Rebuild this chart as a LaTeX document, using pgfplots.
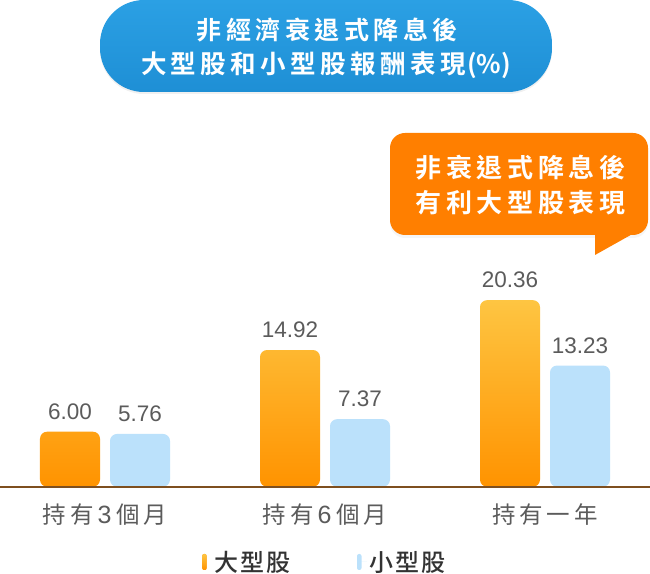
\documentclass[border=0pt]{standalone}
\usepackage{pgfplots}
\pgfplotsset{compat=1.18}
\usepackage{fontspec}
\usetikzlibrary{shadows}
\setmainfont{Liberation Sans}
\newfontfamily\cjk[LetterSpace=16]{Noto Sans CJK TC}
\newfontfamily\cjkb[LetterSpace=18]{Noto Sans CJK TC Bold}
\newfontfamily\cjkbt{Noto Sans CJK TC Bold}
\newfontfamily\cjkm[LetterSpace=10]{Noto Sans CJK TC Medium}

\definecolor{orTop}{HTML}{FEC542}
\definecolor{orBot}{HTML}{FF9300}
\definecolor{lblue}{HTML}{BBE1FB}
\definecolor{baseln}{HTML}{7E4F1F}
\definecolor{lbl}{HTML}{5B5B5B}
\definecolor{callout}{HTML}{FF7F00}
\definecolor{legtxt}{HTML}{333333}
\definecolor{ttop}{HTML}{2BA0E4}
\definecolor{tbot}{HTML}{1E8FD5}

\newcommand{\dg}[1]{\hspace{4pt}{\rmfamily\fontsize{25}{25}\selectfont#1}\hspace{5pt}}

\begin{document}
\begin{tikzpicture}
\begin{axis}[
  scale only axis, width=650pt, height=486.7pt,
  xmin=-0.47727, xmax=2.47727, ymin=0, ymax=53.13,
  ybar=10pt, bar width=60pt,
  axis x line*=bottom, axis y line=none,
  axis line style={draw=baseln, line width=2pt, -},
  axis on top, clip=false,
  xtick={0,1,2},
  xticklabels={持有\dg{3}個月,持有\dg{6}個月,持有一年},
  major tick length=0pt, ytick=\empty,
  x tick label style={font=\cjk\fontsize{23.5}{23.5}\selectfont, text=lbl, anchor=center, yshift=-28.3pt},
  /pgf/number format/assume math mode=true,
  nodes near coords={\pgfmathprintnumber[fixed,zerofill,precision=2]{\pgfplotspointmeta}},
  every node near coord/.append style={font=\fontsize{22.5}{22.5}\selectfont, text=lbl, anchor=center, yshift=20pt},
  legend columns=2,
  legend style={at={(axis description cs:0.5,-0.1547)}, anchor=center, draw=none, fill=none,
    font=\cjkm\fontsize{24}{24}\selectfont, text=legtxt,
    /tikz/every even column/.append style={column sep=64pt}},
]
\addplot[draw=none, top color=orTop, bottom color=orBot, rounded corners=7pt,
  legend image code/.code={\fill[orBot, rounded corners=2pt] (0pt,-8pt) rectangle (4.5pt,8pt); \path (0pt,0pt) -- (10pt,0pt);}]
  coordinates {(0,6.00) (1,14.92) (2,20.36)};
\addlegendentry{大型股}
\addplot[draw=none, fill=lblue, rounded corners=7pt,
  legend image code/.code={\fill[lblue, rounded corners=2pt] (0pt,-8pt) rectangle (4.5pt,8pt); \path (0pt,0pt) -- (10pt,0pt);}]
  coordinates {(0,5.76) (1,7.37) (2,13.23)};
\addlegendentry{小型股}
\end{axis}

% title pill
\path[top color=ttop, bottom color=tbot, rounded corners=44pt,
  drop shadow={shadow xshift=0pt, shadow yshift=-2pt, opacity=0.12}]
  (100pt,394.7pt) rectangle (552pt,486.7pt);
\node[text=white, font=\cjkb\fontsize{25}{25}\selectfont] at (327pt,456.7pt) {非經濟衰退式降息後};
\node[text=white, font=\cjkbt\fontsize{25.5}{25.5}\selectfont, inner sep=0pt] at (326pt,421.7pt)
  {大\kern4.4pt 型\kern4.4pt 股\kern4.4pt 和\kern4.4pt 小\kern4.4pt 型\kern4.4pt 股\kern4.4pt 報\kern4.4pt 酬\kern4.4pt 表\kern4.4pt 現\kern1.5pt(\%)};

% callout
\path[fill=callout, rounded corners=15pt,
  drop shadow={shadow xshift=0pt, shadow yshift=-3pt, opacity=0.08}]
  (390pt,251.7pt) rectangle (648pt,353.7pt);
\fill[callout] (595pt,253pt) -- (595pt,231.7pt) -- (633pt,253pt) -- cycle;
\node[text=white, font=\cjkb\fontsize{26}{26}\selectfont] at (520.5pt,318.7pt) {非衰退式降息後};
\node[text=white, font=\cjkb\fontsize{26}{26}\selectfont] at (520.5pt,283.7pt) {有利大型股表現};

\pgfresetboundingbox
\useasboundingbox (0pt,-86.3pt) rectangle (650pt,486.7pt);
\end{tikzpicture}
\end{document}
